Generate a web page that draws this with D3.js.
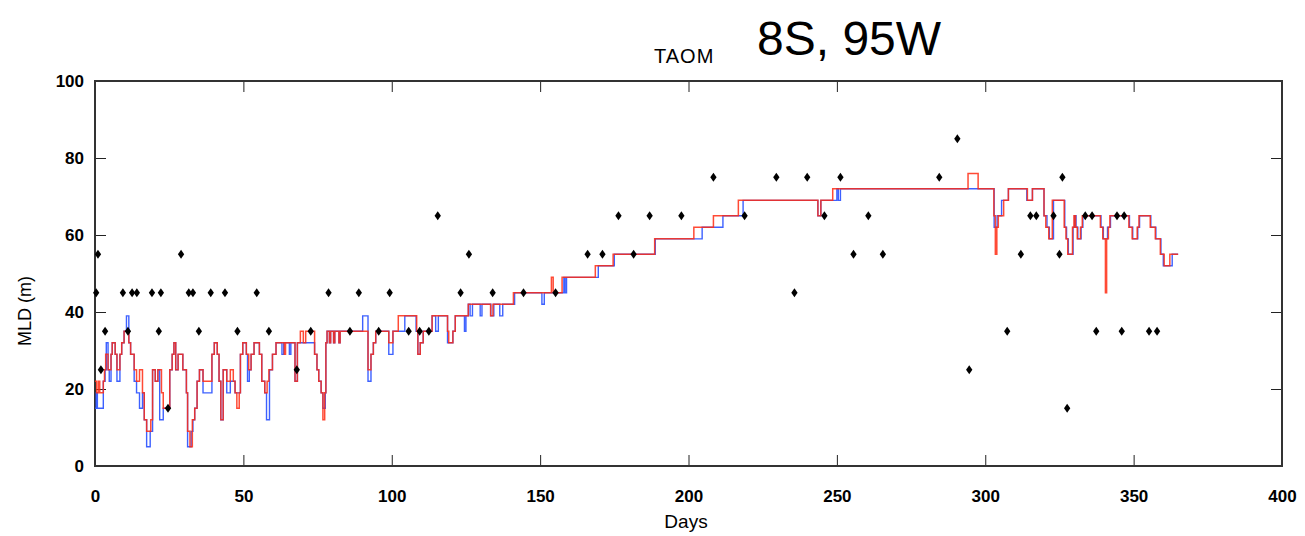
<!DOCTYPE html>
<html>
<head>
<meta charset="utf-8">
<script src="https://cdn.jsdelivr.net/npm/d3@7"></script>
<style>
  html, body { margin: 0; padding: 0; background: #fff; }
  svg { display: block; font-family: "Liberation Sans", Arial, sans-serif; }
</style>
</head>
<body>
<div id="container"></div>
<script>
const width = 1305, height = 536;

// --- Data ---
const xTicks = [0, 50, 100, 150, 200, 250, 300, 350, 400];
const yTicks = [0, 20, 40, 60, 80, 100];

// red series: [day, MLD] step breakpoints
const redSteps = [
  [0,22],[0.6,19],[1.2,22],[1.6,19],[2.8,22],[3.2,25],[3.6,29],[4.4,25],[5.4,29],[5.8,32],
  [6.8,29],[7.4,25],[8.4,29],[9.0,32],[9.8,35],[11.4,32],[12.0,29],[13.2,25],[14.0,22],[15.0,25],
  [16.0,19],[16.6,12],[17.4,9],[18.8,12],[19.4,25],[20.3,22],[21.2,25],[22.4,19],[23.0,15],[25.2,25],
  [26.0,29],[26.6,32],[27.2,25],[28.0,29],[29.6,25],[30.8,19],[31.2,9],[32.0,5],[32.8,12],[33.6,15],
  [34.4,22],[35.2,25],[36.4,22],[39.4,29],[40.2,32],[41.2,29],[41.8,22],[42.4,12],[43.2,25],[44.4,22],
  [45.6,25],[46.6,22],[47.2,19],[47.8,15],[48.6,19],[49.0,29],[49.8,32],[51.0,29],[51.8,25],[52.6,29],
  [53.6,32],[55.4,29],[56.2,22],[57.2,19],[58.0,22],[58.6,25],[59.8,29],[61.0,32],[63.8,29],[64.2,32],
  [67.4,22],[68.2,32],[69.2,35],[70.2,32],[71.0,35],[74.0,29],[74.8,25],[75.4,22],[76.2,19],[76.8,12],
  [77.4,19],[77.8,32],[78.2,35],[79.0,32],[79.4,35],[80.4,32],[80.8,35],[82.2,32],[82.6,35],
  [92.0,25],[93.0,29],[93.8,32],[94.6,35],[99.0,32],[100.4,35],[102.2,39],[108.4,35],[108.8,29],
  [109.6,32],[110.6,35],[113.6,39],[118.8,35],[119.2,32],[120.6,35],[121.4,39],[125.8,42],[133.3,39],[134.1,42],
  [141.0,45],[153.8,49],[154.4,45],[157.4,49],[168.6,52],[174.6,55],[188.6,59],[201.8,62],[208.4,65],[216.8,69],
  [243.6,65],[244.6,69],[248.6,72],[294.2,76],[297.6,72],[302.9,65],[303.4,55],[303.9,62],[304.4,65],[306.2,69],
  [307.8,72],[314.2,69],[315.9,72],[319.8,65],[320.4,62],[321.4,59],[322.6,69],[326.6,62],[327.2,59],[327.8,55],
  [329.4,62],[329.9,65],[330.4,62],[331.0,59],[332.1,62],[332.7,65],[338.8,62],[339.6,59],[340.5,45],[340.9,59],
  [341.5,62],[342.0,65],[348.4,62],[349.5,59],[351.2,62],[351.8,65],[355.6,62],[357.3,59],[359.0,55],[360.3,52],
  [362.2,55],[365.0,55]
];

// blue series: [day, MLD] step breakpoints
const blueSteps = [
  [0,15],[0.4,19],[0.8,15],[2.8,22],[3.4,25],[3.8,32],[4.4,25],[4.8,22],[5.4,29],[5.8,32],
  [6.8,29],[7.4,22],[8.4,29],[9.0,32],[9.8,35],[10.6,39],[11.4,32],[12.0,29],[13.2,22],[14.0,19],
  [15.0,15],[16.0,19],[16.6,12],[17.4,5],[18.6,9],[19.4,25],[20.3,22],[21.2,25],[21.8,12],[23.0,15],
  [25.2,25],[26.0,29],[26.6,32],[27.2,25],[28.0,29],[29.6,25],[30.8,19],[31.2,5],[32.4,9],[33.0,12],
  [33.6,15],[34.4,22],[35.2,25],[36.4,19],[39.4,29],[40.2,32],[41.2,29],[41.8,22],[42.4,12],[43.2,25],
  [44.4,19],[45.6,22],[47.2,19],[49.0,29],[49.8,32],[51.0,29],[51.4,22],[52.0,25],[52.6,29],[53.6,32],
  [55.4,29],[56.2,22],[57.2,19],[57.8,12],[58.8,25],[59.8,29],[61.0,32],[63.0,29],[63.6,32],[65.5,29],
  [66.0,32],[67.4,22],[68.2,32],[74.0,29],[74.8,25],[75.4,22],[76.2,19],[76.8,15],[77.6,19],[77.8,32],
  [78.2,35],[79.0,32],[79.4,35],[80.4,32],[80.8,35],[82.2,32],[82.6,35],[90.2,39],
  [92.0,22],[93.0,29],[93.8,32],[94.6,35],[99.0,29],[100.4,35],[104.4,39],[108.2,35],[108.8,29],[109.6,32],
  [110.6,35],[113.6,39],[114.8,35],[115.7,39],[118.8,32],[120.6,35],[121.4,39],[124.5,35],[125.0,39],[125.8,42],
  [126.4,39],[127.2,42],[129.8,39],[130.4,42],[133.4,39],[134.4,42],[136.4,39],[137.4,42],[141.4,45],[150.6,42],
  [151.4,45],[158.0,49],[158.4,45],[158.9,49],[169.6,52],[175.0,55],[188.8,59],[204.6,62],[211.6,65],[218.4,69],
  [243.6,65],[244.6,69],[250.0,72],[250.5,69],[251.2,72],[303.0,62],[304.0,65],[305.5,69],[307.8,72],[314.0,69],
  [315.9,72],[319.8,65],[320.8,62],[321.6,59],[323.0,69],[326.8,62],[327.4,59],[328.0,55],[329.6,62],[330.1,65],
  [330.6,62],[331.2,59],[332.3,62],[332.9,65],[339.0,62],[339.8,59],[341.2,62],[342.2,65],[348.6,62],[349.7,59],
  [351.4,62],[352.0,65],[355.8,62],[357.5,59],[359.2,55],[360.0,52],[363.0,55],[365.0,55]
];

// black observations: [day, MLD]
const obsPoints = [
  [0.4,45],[1,55],[2,25],[3.4,35],[9.4,45],[11.1,35],[12.5,45],[14.1,45],[19.2,45],[21.5,35],
  [22.2,45],[24.6,15],[29,55],[31.6,45],[33,45],[35,35],[39,45],[43.8,45],[48,35],[54.5,45],
  [58.6,35],[68,25],[72.7,35],[78.7,45],[85.9,35],[88.9,45],[95.6,35],[99.3,45],[105.7,35],[109.4,35],
  [112.5,35],[115.5,65],[123.2,45],[126,55],[134,45],[144.4,45],[155.2,45],[166,55],[171,55],[176.4,65],
  [181.5,55],[186.9,65],[197.6,65],[208.4,75],[218.9,65],[229.6,75],[235.7,45],[240,75],[245.8,65],[251.2,75],
  [255.6,55],[260.6,65],[265.5,55],[284.5,75],[290.6,85],[294.6,25],[307.4,35],[312,55],[315.2,65],[317.2,65],
  [323,65],[325,55],[326,75],[327.6,15],[333.7,65],[336,65],[337.4,35],[344.4,65],[346.8,65],[346,35],
  [355.2,35],[357.9,35]
];

// --- Layout ---
const svg = d3.select("#container").append("svg")
  .attr("width", width).attr("height", height);

const x = d3.scaleLinear().domain([0, 400]).range([95, 1282]);
const y = d3.scaleLinear().domain([0, 100]).range([466, 81]);

// ticks pointing inwards on all four sides
const tickLen = 11;
const axStyle = g => {
  g.select(".domain").remove();
  g.selectAll(".tick line").attr("stroke", "#222").attr("stroke-width", 1);
};

svg.append("g").attr("transform", `translate(0,${y(0)})`)
  .call(d3.axisBottom(x).tickValues(xTicks).tickSize(-tickLen).tickPadding(31).tickFormat(d3.format("d")))
  .call(axStyle)
  .call(g => g.selectAll("text").attr("fill", "#000")
    .style("font-size", "17px").style("font-weight", "bold").attr("dy", "0.3em"));

svg.append("g").attr("transform", `translate(0,${y(100)})`)
  .call(d3.axisTop(x).tickValues(xTicks).tickSize(-tickLen).tickFormat(""))
  .call(axStyle);

svg.append("g").attr("transform", `translate(${x(0)},0)`)
  .call(d3.axisLeft(y).tickValues(yTicks).tickSize(-tickLen).tickPadding(11).tickFormat(d3.format("d")))
  .call(axStyle)
  .call(g => g.selectAll("text").attr("fill", "#000")
    .style("font-size", "17px").style("font-weight", "bold"));

svg.append("g").attr("transform", `translate(${x(400)},0)`)
  .call(d3.axisRight(y).tickValues(yTicks).tickSize(-tickLen).tickFormat(""))
  .call(axStyle);

// frame
svg.append("rect")
  .attr("x", x(0)).attr("y", y(100))
  .attr("width", x(400) - x(0)).attr("height", y(0) - y(100))
  .attr("fill", "none").attr("stroke", "#333").attr("stroke-width", 2);

// lines
const line = d3.line()
  .x(d => x(d[0])).y(d => y(d[1]))
  .curve(d3.curveStepAfter);

svg.append("path").datum(blueSteps)
  .attr("d", line).attr("fill", "none")
  .attr("stroke", "#2850ff").attr("stroke-width", 1.4).attr("stroke-opacity", 0.9);

svg.append("path").datum(redSteps)
  .attr("d", line).attr("fill", "none")
  .attr("stroke", "#ff2a12").attr("stroke-width", 1.5).attr("stroke-opacity", 0.85);

// observation markers
const diamond = d3.symbol().type(d3.symbolDiamond).size(24);
svg.append("g").selectAll("path").data(obsPoints).join("path")
  .attr("d", diamond)
  .attr("transform", d => `translate(${x(d[0])},${y(d[1])}) scale(1.2,1)`)
  .attr("fill", "#000");

// axis titles
svg.append("text")
  .attr("x", 686).attr("y", 528)
  .attr("text-anchor", "middle").attr("fill", "#000")
  .style("font-size", "19px").text("Days");

svg.append("text")
  .attr("transform", `translate(31,311) rotate(-90)`)
  .attr("text-anchor", "middle").attr("fill", "#000")
  .style("font-size", "18px").text("MLD (m)");

// title
svg.append("text")
  .attr("x", 654).attr("y", 63)
  .attr("fill", "#000").style("font-size", "20px").style("letter-spacing", "1px").text("TAOM");

svg.append("text")
  .attr("x", 757).attr("y", 55)
  .attr("fill", "#000").style("font-size", "48px").text("8S, 95W");
</script>
</body>
</html>
